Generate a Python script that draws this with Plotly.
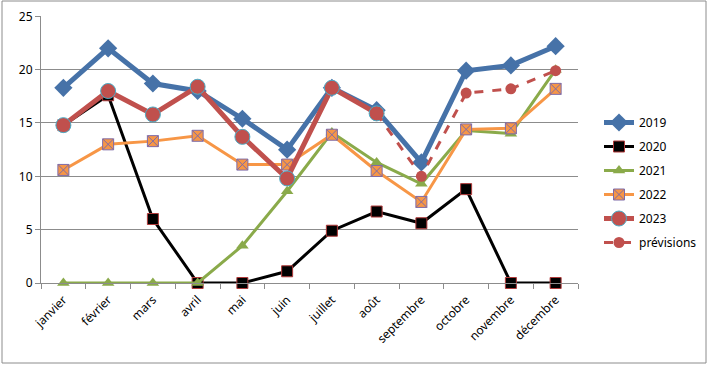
import plotly.graph_objects as go

months = ["janvier", "février", "mars", "avril", "mai", "juin", "juillet",
          "août", "septembre", "octobre", "novembre", "décembre"]
y2019 = [18.3, 22.0, 18.7, 18.0, 15.4, 12.5, 18.3, 16.2, 11.3, 19.9, 20.4, 22.2]
y2020 = [14.8, 17.6, 6.0, 0, 0, 1.1, 4.9, 6.7, 5.6, 8.8, 0, 0]
y2021 = [0, 0, 0, 0, 3.5, 8.6, 14.1, 11.3, 9.3, 14.3, 14.0, 20.0]
y2022 = [10.6, 13.0, 13.3, 13.8, 11.1, 11.1, 13.9, 10.5, 7.6, 14.4, 14.5, 18.2]
y2023 = [14.8, 18.0, 15.8, 18.4, 13.7, 9.8, 18.3, 15.9, None, None, None, None]
prev = [None, None, None, None, None, None, None, 15.9, 10.0, 17.8, 18.2, 19.9]
yticks = [0, 5, 10, 15, 20, 25]

FONT = "Noto Sans"
fig = go.Figure()
fig.add_trace(go.Scatter(x=months, y=y2019, name="2019", mode="lines+markers",
                         legendgroup="a",
                         line=dict(color="#4672A8", width=5),
                         marker=dict(symbol="diamond", size=14, color="#4672A8"),
                         cliponaxis=False))
fig.add_trace(go.Scatter(x=months, y=y2020, name="2020", mode="lines+markers",
                         legendgroup="b",
                         line=dict(color="#000000", width=3),
                         marker=dict(symbol="square", size=11, color="#000000",
                                     line=dict(color="#B03A3A", width=1)),
                         cliponaxis=False))
fig.add_trace(go.Scatter(x=months, y=y2021, name="2021", mode="lines+markers",
                         legendgroup="c",
                         line=dict(color="#8AAA4A", width=3),
                         marker=dict(symbol="triangle-up", size=11, color="#8AAA4A"),
                         cliponaxis=False))
fig.add_trace(go.Scatter(x=months, y=y2022, name="2022", mode="lines+markers",
                         legendgroup="d",
                         line=dict(color="#F79646", width=3),
                         marker=dict(symbol="square-x", size=11, color="#F79646",
                                     line=dict(color="#7E6BA8", width=1)),
                         cliponaxis=False))
fig.add_trace(go.Scatter(x=months, y=y2023, name="2023", mode="lines+markers",
                         legendgroup="e",
                         line=dict(color="#C0504D", width=5),
                         marker=dict(symbol="circle", size=15, color="#C0504D",
                                     line=dict(color="#4BACC6", width=1)),
                         cliponaxis=False))
fig.add_trace(go.Scatter(x=months, y=prev, name="prévisions", mode="lines+markers",
                         legendgroup="f",
                         line=dict(color="#C0504D", width=3, dash="dash"),
                         marker=dict(symbol="circle", size=11, color="#C0504D"),
                         cliponaxis=False))

L, R, T, B = 41, 578, 16, 283
W, H = R - L, B - T
def px2paper_x(p):
    return (p - L) / W
def px2paper_y(p):
    return (B - p) / H

fig.add_shape(type="rect", xref="paper", yref="paper",
              x0=px2paper_x(2), x1=px2paper_x(706),
              y0=px2paper_y(363), y1=px2paper_y(1),
              line=dict(color="#8C8C8C", width=1), layer="below")

fig.update_layout(
    width=708, height=366,
    margin=dict(l=L, r=708 - R, t=T, b=366 - B, autoexpand=False),
    paper_bgcolor="white", plot_bgcolor="white",
    font=dict(family=FONT, size=11, color="#000000"),
    showlegend=True,
    legend=dict(x=px2paper_x(599), y=px2paper_y(108), xanchor="left", yanchor="top",
                font=dict(family=FONT, size=12), tracegroupgap=5,
                itemsizing="trace", bgcolor="rgba(0,0,0,0)"),
    xaxis=dict(showgrid=False, showline=True, linecolor="#8C8C8C",
               ticks="outside", tickson="boundaries", ticklen=5,
               tickcolor="#8C8C8C", tickangle=-45, automargin=False,
               ticklabelstandoff=4,
               tickfont=dict(family=FONT, size=12), range=[-0.5, 11.5]),
    yaxis=dict(range=[0, 25.03], tickvals=yticks, showgrid=True,
               gridcolor="#8C8C8C", gridwidth=1, showline=True,
               linecolor="#8C8C8C", ticks="outside", ticklen=5,
               tickcolor="#8C8C8C", zeroline=False, automargin=False,
               tickfont=dict(family=FONT, size=12)),
)

fig.write_html("out.html", config={"displayModeBar": False},
               post_script="document.body.style.margin='0';document.body.style.overflow='hidden';")
